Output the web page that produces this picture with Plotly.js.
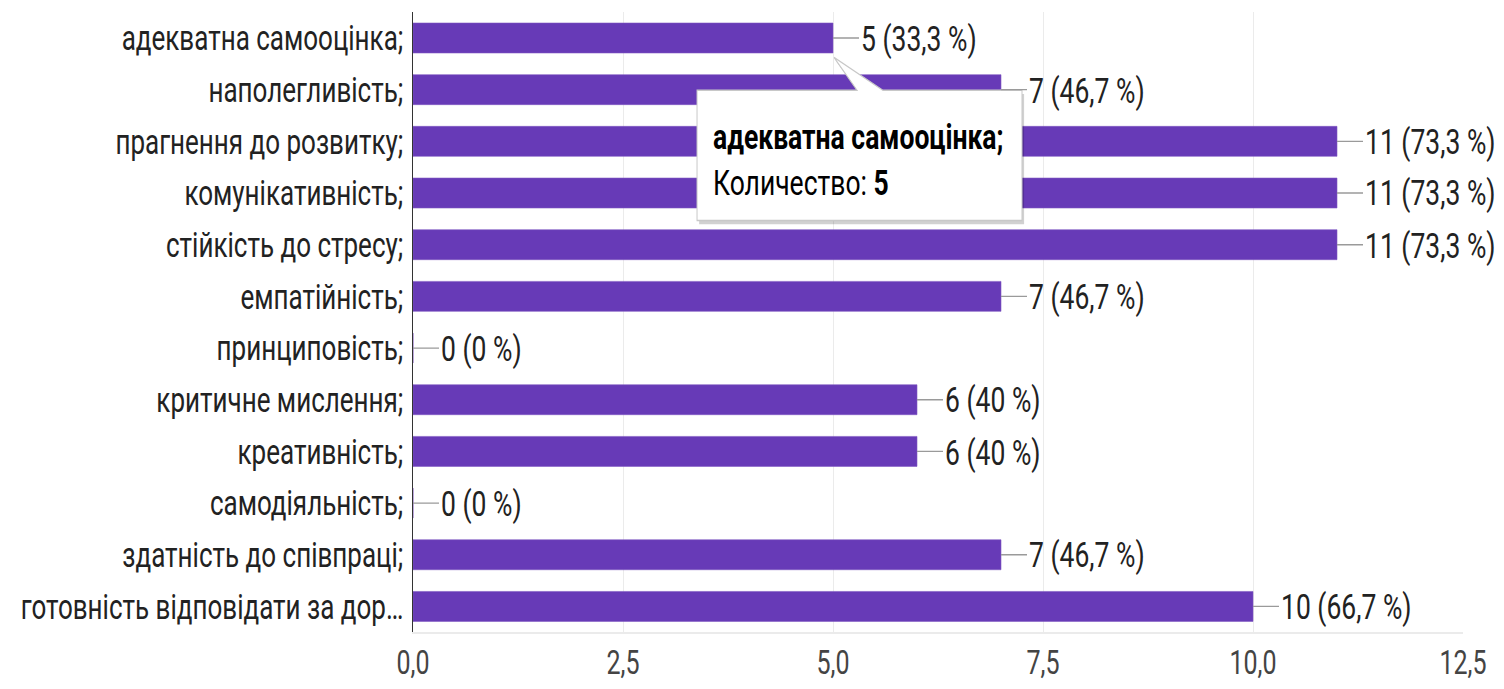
<!DOCTYPE html>
<html><head><meta charset="utf-8">
<script src="https://cdn.plot.ly/plotly-3.0.1.min.js"></script>
<style>
html,body{margin:0;padding:0;background:#fff;overflow:hidden;}
#wrap{width:1504px;height:689px;overflow:hidden;position:relative;background:#fff;}
#chart{width:1504px;height:510px;transform:scaleY(1.351);transform-origin:0 0;}
</style></head><body><div id="wrap"><div id="chart"></div></div>
<script>
const categories = [
  "адекватна самооцінка;",
  "наполегливість;",
  "прагнення до розвитку;",
  "комунікативність;",
  "стійкість до стресу;",
  "емпатійність;",
  "принциповість;",
  "критичне мислення;",
  "креативність;",
  "самодіяльність;",
  "здатність до співпраці;",
  "готовність відповідати за дор…"
];
const counts = [5, 7, 11, 11, 11, 7, 0, 6, 6, 0, 7, 10];
const percents = ["33,3", "46,7", "73,3", "73,3", "73,3", "46,7", "0", "40", "40", "0", "46,7", "66,7"];
const xTickValues = [0, 2.5, 5, 7.5, 10, 12.5];
const tooltipTitle = "адекватна самооцінка;";
const tooltipLabel = "Количество:";
const tooltipValue = 5;

const FONT = "Roboto, 'Liberation Sans', Arial, sans-serif";

const annotations = categories.map((c, i) => ({
  x: counts[i], y: c, xref: 'x', yref: 'y',
  text: counts[i] + " (" + percents[i] + " %)",
  showarrow: true, arrowhead: 0, arrowwidth: 1, arrowcolor: '#9a9a9a',
  ax: 26, ay: 0, xanchor: 'left', standoff: 0, borderpad: 1,
  font: {family: FONT, size: 26.5, color: '#222'}
}));

// tooltip text
annotations.push({
  xref: 'paper', yref: 'paper', x: 0.2838, y: 0.801, xanchor: 'left', yanchor: 'middle',
  text: '<b>' + tooltipTitle + '</b>', showarrow: false,
  font: {family: FONT, size: 26.5, color: '#000'}
});
annotations.push({
  xref: 'paper', yref: 'paper', x: 0.2838, y: 0.7256, xanchor: 'left', yanchor: 'middle',
  text: tooltipLabel + ' <b>' + tooltipValue + '</b>', showarrow: false,
  font: {family: FONT, size: 26.5, color: '#000'}
});

function calloutPath(dx, dy) {
  const p = [[0.2705,0.664],[0.2705,0.874],[0.4229,0.874],[0.4010,0.927],[0.4476,0.874],[0.58,0.874],[0.58,0.664]];
  return 'M' + p.map(q => (q[0]+dx).toFixed(4) + ',' + (q[1]+dy).toFixed(4)).join(' L') + ' Z';
}

const shapes = [
  {type: 'path', xref: 'paper', yref: 'paper', path: calloutPath(0.002, -0.006),
   fillcolor: 'rgba(0,0,0,0.18)', line: {width: 0}, layer: 'above'},
  {type: 'path', xref: 'paper', yref: 'paper', path: calloutPath(0, 0),
   fillcolor: '#ffffff', line: {color: '#c8c8c8', width: 1}, layer: 'above'}
];

const data = [{
  type: 'bar', orientation: 'h',
  x: counts, y: categories,
  marker: {color: '#673ab7', line: {color: '#7e57c2', width: 0.5}},
  hoverinfo: 'skip'
}];

const layout = {
  width: 1504, height: 510,
  margin: {l: 413, r: 41, t: 9, b: 42, pad: 0},
  paper_bgcolor: '#fff', plot_bgcolor: '#fff',
  separators: ', ',
  bargap: 0.42,
  showlegend: false,
  hovermode: false,
  font: {family: FONT, size: 26, color: '#222'},
  xaxis: {
    range: [0, 12.5], tickvals: xTickValues, tickformat: '.1f',
    showgrid: true, gridcolor: '#ebebeb', gridwidth: 1,
    zeroline: false, showline: true, linecolor: '#ebebeb', linewidth: 1,
    ticks: '', ticklabelstandoff: 0,
    tickfont: {family: FONT, size: 25, color: '#444'}
  },
  yaxis: {
    type: 'category', autorange: 'reversed',
    showgrid: false, zeroline: false,
    showline: true, linecolor: '#333', linewidth: 1.5,
    ticks: '', ticklabelstandoff: 3,
    tickfont: {family: FONT, size: 26, color: '#222'}
  },
  annotations: annotations,
  shapes: shapes
};

Plotly.newPlot('chart', data, layout, {displayModeBar: false, staticPlot: true});
</script></body></html>
